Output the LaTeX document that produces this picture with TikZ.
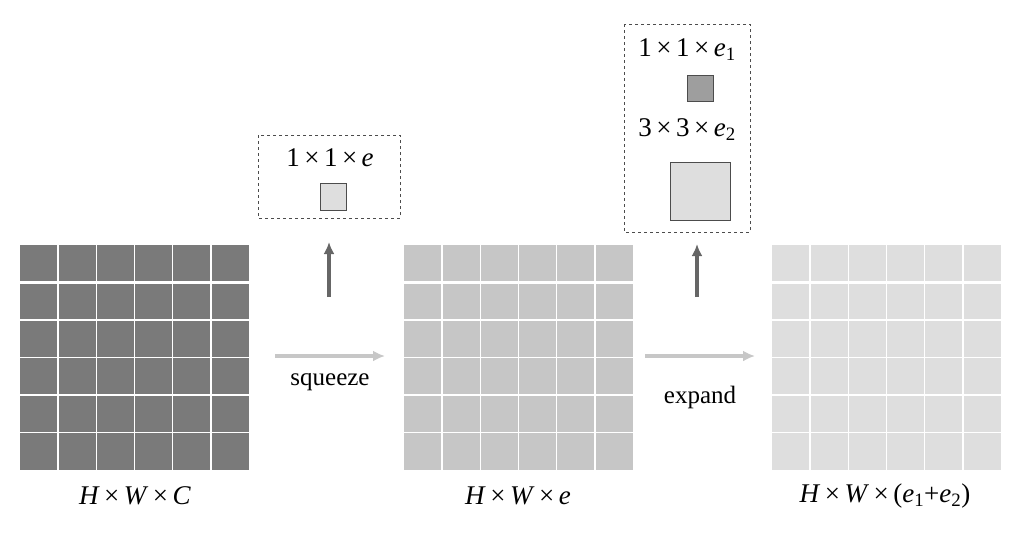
\documentclass[tikz,border=0pt]{standalone}
\usepackage{fontspec}
\setmainfont{Liberation Serif}
\begin{document}
\begin{tikzpicture}[x=1pt,y=-1pt,
  lbl/.style={font=\fontsize{27}{30}\selectfont,inner sep=0},
  wl/.style={font=\fontsize{25}{28}\selectfont,inner sep=0},
  up/.style={draw=black!60,line width=4pt,-{Latex[length=12pt,width=11pt]}},
  side/.style={draw=black!22,line width=4pt,-{Latex[length=12pt,width=11pt]}},
  dbox/.style={draw=black!70,dashed,line width=0.8pt}]
\useasboundingbox (0,0) rectangle (1020,542);
\usetikzlibrary{arrows.meta}
\newcommand{\mygrid}[2]{%
  \fill[#2] (#1,245) rectangle ++(229,225);
  \foreach \i in {1,...,5}{\draw[white,line width=1.6pt] ({#1+\i*229/6},245) -- ++(0,225);}
  \foreach \j in {2,...,5}{\draw[white,line width=1.6pt] (#1,{245+\j*225/6}) -- ++(229,0);}
  \draw[white,line width=3pt] (#1,{245+225/6}) -- ++(229,0);}
\definecolor{g1}{HTML}{7A7A7A}\definecolor{g2}{HTML}{C6C6C6}\definecolor{g3}{HTML}{DEDEDE}
\mygrid{20}{g1}
\mygrid{404}{g2}
\mygrid{772}{g3}
\coordinate (a1) at (329,297); \coordinate (a2) at (329,242);
\coordinate (b1) at (697,297); \coordinate (b2) at (697,244);
\coordinate (c1) at (275,356); \coordinate (c2) at (385,356);
\coordinate (d1) at (645,356); \coordinate (d2) at (755,356);
\draw[up] (a1)--(a2); \draw[up] (b1)--(b2);
\draw[side] (c1)--(c2); \draw[side] (d1)--(d2);
\node[wl] (sq) at (330,382) {squeeze};
\node[wl] (ex) at (700,397) {expand};
\node[lbl] (l1) at (135,496) {\textit{H}\,×\,\textit{W}\,×\,\textit{C}};
\node[lbl] (l2) at (518,496) {\textit{H}\,×\,\textit{W}\,×\,\textit{e}};
\node[lbl] (l3) at (885,496) {\textit{H}\,×\,\textit{W}\,×\,(\textit{e}\textsubscript{1}+\textit{e}\textsubscript{2})};
\draw[dbox] (258,135) rectangle (400,218);
\node[lbl] (t1) at (330,158) {1\,×\,1\,×\,\textit{e}};
\draw[fill=g3,draw=black!70,line width=0.8pt] (320,183) rectangle (346,210);
\draw[dbox] (624,24) rectangle (750,232);
\node[lbl] (t2) at (687,50) {1\,×\,1\,×\,\textit{e}\textsubscript{1}};
\draw[fill=black!38,draw=black!70,line width=0.8pt] (687,75) rectangle (713,101);
\node[lbl] (t3) at (687,130) {3\,×\,3\,×\,\textit{e}\textsubscript{2}};
\draw[fill=g3,draw=black!70,line width=0.8pt] (670,162) rectangle (730,220);
\end{tikzpicture}
\end{document}
